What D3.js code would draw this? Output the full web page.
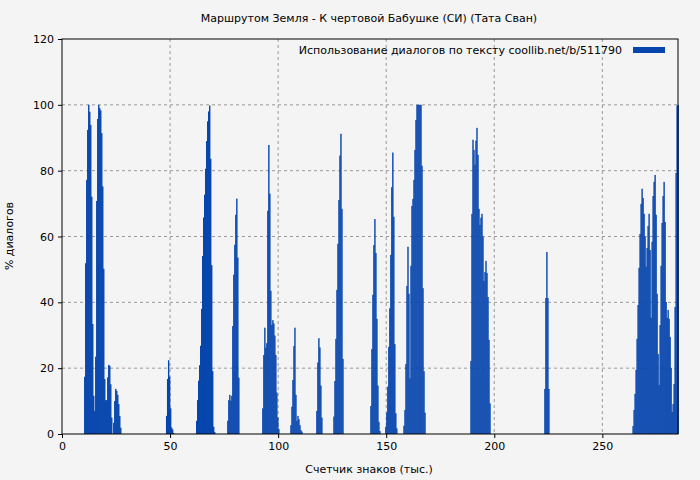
<!DOCTYPE html>
<meta charset="utf-8">
<body style="margin:0;background:#f4f4f4">
<script src="https://d3js.org/d3.v7.min.js"></script>
<script>
// chart data: clusters of bars, each bar covers ~0.463 thousand chars
var step = 0.463;
var clusterStarts = [10.2, 48.1, 62.0, 76.4, 92.6, 105.6, 117.6, 125.5, 142.6, 149.5, 157.9, 188.9, 223.1, 263.9];
var clusterValues = [
  [17.4,51.9,77.2,92.4,100,97.9,93.9,72.1,33.4,11.6,7,23.5,70.8,95.7,100,99,98.3,91.4,75.2,50.2,16.7,10.3,10.3,17.2,21,20.7,15.1,5,0,3.4,10,13.7,13.1,11.9,9.1,5.5,1.9],
  [5.5,16.7,22.4,17.4,7.8,2,1.4,0.3],
  [4,10.3,16.2,20.9,26.8,38,54.1,65.8,72.7,80.6,89,95,98,99.8,83.6,51.3,19.1,2.2,0.6],
  [4,10.3,11.9,10.1,11.6,32.8,48.4,57.5,66.6,71.5,53.6,17.1],
  [7.8,24,32.3,26.2,27.6,67.8,87.8,73,43.5,33.1,34.6,33.6,29.9,24,12.6,5,1.5],
  [2.7,8.3,16.4,26.7,32.3,11.9,4,5.5,4.5,2.7,1.2,0.7],
  [7,21.7,29.1,26.3,14.7,5],
  [5.3,16.1,28.9,43.8,57.8,71.1,84.6,91.2,68.4,22.8],
  [8.5,25.8,42.3,57.4,65.3,55,35,14.7,3.7,0.9],
  [2.2,6.5,14.4,26.5,38.2,54.4,75,85.5,66,27.3,6.3,1.7],
  [2.5,7.3,21.3,45,56.9,42.6,16.9,51.1,69.3,71.4,77.2,86.3,95.4,100,100,100,100,100,81.5,44.3,19.1,6.5],
  [22.2,66.9,89.4,86.3,81.8,89.1,93,84.8,68.4,63.5,65.7,66.9,60,46.5,49.2,52.6,48.9,41.6,28.6,9.3],
  [13.7,41.3,55.3,41.3,13.7],
  [2.4,7.3,12.2,19.5,28.9,39.2,50.5,60.8,69.9,74.5,71.7,66.9,59.9,50.8,56.5,63.2,66.9,55.9,35.3,58.4,72.3,76.6,78.7,66.6,42.6,24.3,14.9,33.1,51.1,64.1,72.3,76.6,64.4,40.1,35.3,37.7,35,29.5,20.1,6.7,9.1,15.2,38.6,79.3,99.7,100]
];
var xTicks = [0, 50, 100, 150, 200, 250];
var yTicks = [0, 20, 40, 60, 80, 100, 120];

var bars = [];
clusterStarts.forEach(function(s, c) {
  clusterValues[c].forEach(function(v, i) { bars.push({x: s + i * step, v: v}); });
});

var margin = {top: 39, right: 22, bottom: 46, left: 62},
    width = 700 - margin.left - margin.right,
    height = 480 - margin.top - margin.bottom;

var svg = d3.select("body").append("svg")
    .attr("width", 700).attr("height", 480)
    .style("font-family", "DejaVu Sans").style("font-size", "11px");
svg.append("rect").attr("width", 700).attr("height", 480).attr("fill", "#f4f4f4");
var g = svg.append("g").attr("transform", "translate(" + margin.left + "," + margin.top + ")");

var x = d3.scaleLinear().domain([0, 285]).range([0, width]);
var y = d3.scaleLinear().domain([0, 120]).range([height, 0]);

// grid
g.selectAll(".gx").data(xTicks.slice(1)).enter().append("line")
    .attr("x1", x).attr("x2", x).attr("y1", 0).attr("y2", height)
    .attr("stroke", "#999").attr("stroke-dasharray", "3,3");
g.selectAll(".gy").data(yTicks.slice(1, -1)).enter().append("line")
    .attr("y1", y).attr("y2", y).attr("x1", 0).attr("x2", width)
    .attr("stroke", "#999").attr("stroke-dasharray", "3,3");

var bw = x(step) - x(0) + 0.4;
g.selectAll(".bar").data(bars).enter().append("rect")
    .attr("x", function(d) { return x(d.x); })
    .attr("y", function(d) { return y(d.v); })
    .attr("width", bw)
    .attr("height", function(d) { return height - y(d.v); })
    .attr("fill", "#0645ad");

g.append("rect").attr("width", width).attr("height", height)
    .attr("fill", "none").attr("stroke", "#000");

var ax = g.append("g").attr("transform", "translate(0," + height + ")")
    .call(d3.axisBottom(x).tickValues(xTicks).tickSize(4).tickPadding(4));
var ay = g.append("g")
    .call(d3.axisLeft(y).tickValues(yTicks).tickSize(4).tickPadding(4));
[ax, ay].forEach(function(a) {
  a.select(".domain").remove();
  a.selectAll("text").style("font-family", "DejaVu Sans").style("font-size", "11px").attr("fill", "#000");
});

svg.append("text").attr("x", 369).attr("y", 22).attr("text-anchor", "middle")
    .text("Маршрутом Земля - К чертовой Бабушке (СИ) (Тата Сван)");
svg.append("text").attr("x", 369).attr("y", 473).attr("text-anchor", "middle")
    .text("Счетчик знаков (тыс.)");
svg.append("text").attr("transform", "translate(13,236) rotate(-90)").attr("text-anchor", "middle")
    .text("% диалогов");

// legend
svg.append("text").attr("x", 622).attr("y", 54).attr("text-anchor", "end")
    .text("Использование диалогов по тексту  coollib.net/b/511790");
svg.append("rect").attr("x", 633).attr("y", 47).attr("width", 32).attr("height", 6).attr("fill", "#0645ad");
</script>
</body>
